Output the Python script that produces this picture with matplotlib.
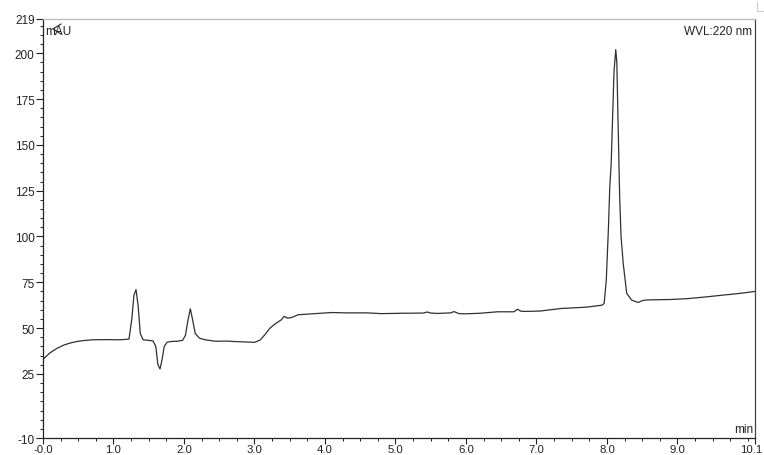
import matplotlib
matplotlib.use("Agg")
import matplotlib.pyplot as plt
import matplotlib.transforms as mtransforms
from matplotlib.ticker import MultipleLocator, FixedLocator
from matplotlib.lines import Line2D

plt.rcParams['font.family'] = ['Liberation Sans', 'DejaVu Sans']

# Retention time (min) and absorbance (mAU)
time_min = [0.0, 0.1, 0.2, 0.3, 0.4, 0.5, 0.6, 0.7, 0.9, 1.1, 1.22, 1.26, 1.29, 1.32,
            1.35, 1.38, 1.42, 1.50, 1.56, 1.60, 1.63, 1.66, 1.69, 1.72, 1.76, 1.82,
            1.90, 1.98, 2.02, 2.06, 2.09, 2.12, 2.16, 2.22, 2.30, 2.45, 2.60, 2.75,
            2.90, 3.00, 3.08, 3.15, 3.22, 3.30, 3.38, 3.42, 3.47, 3.53, 3.62, 3.75,
            3.90, 4.10, 4.30, 4.60, 4.80, 5.10, 5.40, 5.45, 5.50, 5.60, 5.78, 5.83,
            5.90, 6.00, 6.20, 6.45, 6.68, 6.73, 6.78, 6.85, 7.05, 7.35, 7.70, 7.93,
            7.96, 7.99, 8.02, 8.04, 8.06, 8.08, 8.10, 8.125, 8.14, 8.16, 8.18, 8.20,
            8.23, 8.28, 8.35, 8.44, 8.52, 8.60, 8.90, 9.15, 9.40, 9.62, 9.85, 10.1]
signal_mau = [33.0, 36.5, 39.0, 40.8, 42.0, 42.8, 43.3, 43.6, 43.7, 43.6, 44.0, 55.0, 68.0, 71.0,
              62.0, 47.0, 43.6, 43.3, 43.0, 40.0, 30.0, 27.7, 33.0, 40.0, 42.3, 42.7,
              42.8, 43.3, 46.0, 55.0, 60.5, 55.0, 47.0, 44.5, 43.6, 42.8, 42.9, 42.6,
              42.4, 42.2, 43.5, 46.5, 50.0, 52.5, 54.5, 56.4, 55.4, 55.8, 57.3, 57.6,
              58.0, 58.5, 58.3, 58.3, 57.9, 58.1, 58.2, 58.8, 58.2, 58.0, 58.3, 59.0,
              57.9, 57.8, 58.1, 58.9, 58.9, 60.3, 59.2, 59.1, 59.3, 60.7, 61.4, 62.5,
              63.5, 76.0, 103.6, 127.0, 140.0, 165.0, 190.0, 202.0, 195.0, 158.0, 122.0, 100.0,
              85.5, 69.0, 65.3, 64.0, 65.2, 65.4, 65.6, 66.1, 67.0, 67.9, 68.8, 70.0]

y_tick_values = [219, 200, 175, 150, 125, 100, 75, 50, 25, -10]
x_tick_values = [0, 1, 2, 3, 4, 5, 6, 7, 8, 9, 10.1]
x_tick_labels = ["-0.0", "1.0", "2.0", "3.0", "4.0", "5.0", "6.0", "7.0", "8.0", "9.0", "10.1"]

W, H = 764, 456
fig = plt.figure(figsize=(W / 100, H / 100), dpi=100)
left, right, top, bottom = 43, 755, 19.5, 439
ax = fig.add_axes([left / W, 1 - bottom / H, (right - left) / W, (bottom - top) / H])

ax.plot(time_min, signal_mau, color='#303030', lw=0.9)

ax.set_xlim(0, 10.1)
ax.set_ylim(-10, 219)

ax.yaxis.set_major_locator(FixedLocator(y_tick_values))
ax.set_yticklabels([str(v) for v in y_tick_values])
ax.yaxis.set_minor_locator(MultipleLocator(5))
ax.xaxis.set_major_locator(FixedLocator(x_tick_values))
ax.set_xticklabels(x_tick_labels)
ax.xaxis.set_minor_locator(MultipleLocator(0.25))

ax.tick_params(axis='y', which='major', length=5, width=0.8, color='#222222',
               labelsize=8.5, labelcolor='#222222', pad=1)
ax.tick_params(axis='x', which='major', length=4, width=0.8, color='#222222',
               labelsize=8.2, labelcolor='#222222', pad=0)
ax.tick_params(axis='both', which='minor', length=2.5, width=0.7, color='#222222')

# keep the last x label inside the canvas
last = ax.get_xticklabels()[-1]
last.set_transform(last.get_transform() +
                   mtransforms.ScaledTranslation(-4 / 100, 0, fig.dpi_scale_trans))

for s in ['left', 'bottom']:
    ax.spines[s].set_color('#222222')
    ax.spines[s].set_linewidth(0.9)
ax.spines['right'].set_color('#444444')
ax.spines['right'].set_linewidth(0.9)
ax.spines['top'].set_color('#bbbbbb')
ax.spines['top'].set_linewidth(0.9)

ax.text(0.003, 0.985, "mAU", transform=ax.transAxes, ha='left', va='top',
        fontsize=8.5, color='#222222')
ax.text(0.996, 0.985, "WVL:220 nm", transform=ax.transAxes, ha='right', va='top',
        fontsize=8.5, color='#222222')
ax.text(0.998, 0.008, "min", transform=ax.transAxes, ha='right', va='bottom',
        fontsize=8.5, color='#222222')

# small arrow glyph near the mAU label
fig.add_artist(Line2D([61 / W, 53 / W, 61 / W], [1 - 25 / H, 1 - 30 / H, 1 - 35 / H],
                      color='#222222', lw=0.8))
# small corner mark at top right
fig.add_artist(Line2D([757 / W, 757 / W, 763 / W], [1 - 3 / H, 1 - 12 / H, 1 - 12 / H],
                      color='#cccccc', lw=0.8))

fig.savefig("out.png", dpi=100)
